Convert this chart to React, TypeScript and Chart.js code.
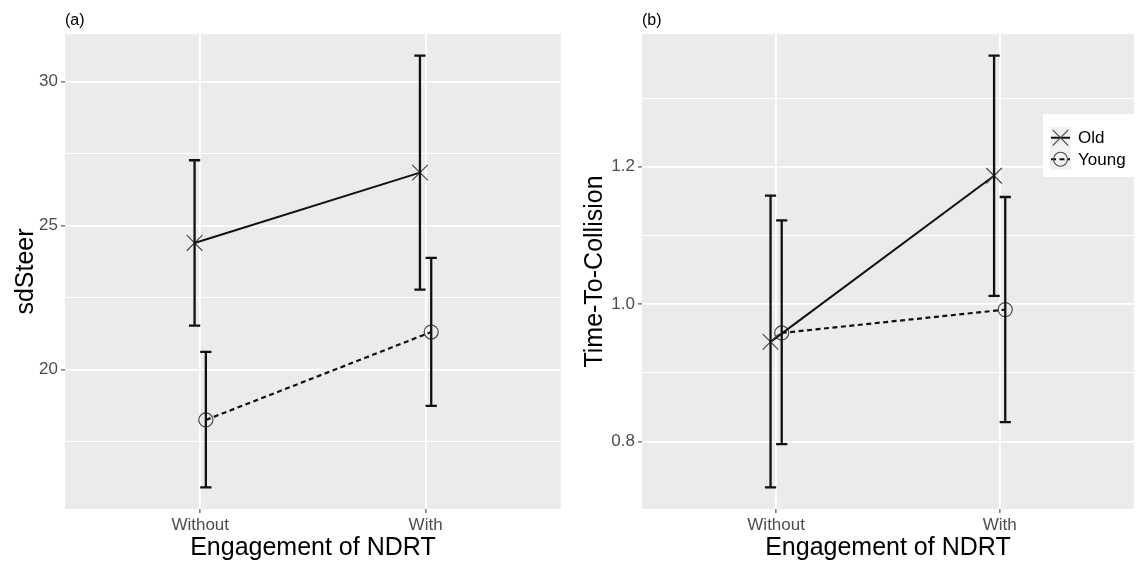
import React, { useEffect, useRef } from 'react';
import { Chart, registerables } from 'chart.js';

Chart.register(...registerables);

// ---------- data ----------
const categories = ['Without', 'With'];
const seriesNames = ['Old', 'Young'];

// Panel (a): sdSteer
const sdOldMean = [24.4, 26.84];
const sdOldLow = [21.53, 22.78];
const sdOldHigh = [27.27, 30.9];
const sdYoungMean = [18.26, 21.31];
const sdYoungLow = [15.92, 18.75];
const sdYoungHigh = [20.62, 23.88];
const sdTickValues = [20, 25, 30];
const sdTickLabels = ['20', '25', '30'];
const sdMinorTicks = [17.5, 22.5, 27.5];

// Panel (b): Time-To-Collision
const ttcOldMean = [0.945, 1.187];
const ttcOldLow = [0.733, 1.012];
const ttcOldHigh = [1.158, 1.362];
const ttcYoungMean = [0.958, 0.992];
const ttcYoungLow = [0.796, 0.828];
const ttcYoungHigh = [1.122, 1.156];
const ttcTickValues = [0.8, 1.0, 1.2];
const ttcTickLabels = ['0.8', '1.0', '1.2'];
const ttcMinorTicks = [0.9, 1.1, 1.3];

// ---------- styling constants ----------
const FONT = "'Liberation Sans', Arial, Helvetica, sans-serif";
const DODGE = [-0.025, 0.025];
const CAP = 0.025;
const MARKERS = ['crossRot', 'circle'];
const DASHES: number[][] = [[], [5, 3.5]];

Chart.defaults.font.family = FONT;

function near(a: number, b: number) {
  return Math.abs(a - b) < 1e-9;
}

function drawMarker(ctx: CanvasRenderingContext2D, style: string, x: number, y: number) {
  ctx.save();
  ctx.strokeStyle = '#4a4a4a';
  ctx.lineWidth = 1.2;
  ctx.beginPath();
  if (style === 'crossRot') {
    const d = 7.8;
    ctx.moveTo(x - d, y - d);
    ctx.lineTo(x + d, y + d);
    ctx.moveTo(x - d, y + d);
    ctx.lineTo(x + d, y - d);
  } else {
    ctx.arc(x, y, 7, 0, Math.PI * 2);
  }
  ctx.stroke();
  ctx.restore();
}

const panelBg = {
  id: 'panelBg',
  beforeDraw(chart: any) {
    const { ctx, chartArea: a } = chart;
    ctx.save();
    ctx.fillStyle = '#ebebeb';
    ctx.fillRect(a.left, a.top, a.right - a.left, a.bottom - a.top);
    ctx.restore();
  },
};

const panelTag = {
  id: 'panelTag',
  afterDraw(chart: any, _args: any, opts: any) {
    const { ctx, chartArea: a } = chart;
    ctx.save();
    ctx.fillStyle = '#000';
    ctx.font = `16px ${FONT}`;
    ctx.textAlign = 'left';
    ctx.textBaseline = 'middle';
    ctx.fillText(opts.text, a.left, opts.y);
    ctx.restore();
  },
};

const errorBars = {
  id: 'errorBars',
  afterDatasetsDraw(chart: any, _args: any, opts: any) {
    const { ctx } = chart;
    const xs = chart.scales.x;
    const ys = chart.scales.y;
    ctx.save();
    ctx.strokeStyle = '#111';
    ctx.lineWidth = 2.3;
    ctx.lineCap = 'butt';
    opts.bars.forEach((bar: any) => {
      bar.low.forEach((lo: number, i: number) => {
        const hi = bar.high[i];
        const xc = xs.getPixelForValue(i + bar.offset);
        const xl = xs.getPixelForValue(i + bar.offset - CAP);
        const xr = xs.getPixelForValue(i + bar.offset + CAP);
        const yl = ys.getPixelForValue(lo);
        const yh = ys.getPixelForValue(hi);
        ctx.beginPath();
        ctx.moveTo(xc, yl);
        ctx.lineTo(xc, yh);
        ctx.moveTo(xl, yl);
        ctx.lineTo(xr, yl);
        ctx.moveTo(xl, yh);
        ctx.lineTo(xr, yh);
        ctx.stroke();
      });
    });
    ctx.restore();
  },
};

const ggLegend = {
  id: 'ggLegend',
  afterDraw(chart: any, _args: any, opts: any) {
    if (!opts.display) return;
    const { ctx } = chart;
    const b = opts.box;
    ctx.save();
    ctx.fillStyle = '#ffffff';
    ctx.fillRect(b.x, b.y, b.w, b.h);
    const keyX = b.x + 7;
    const keyW = 21;
    const keyH = 21.5;
    const keyTop = b.y + 13;
    opts.names.forEach((name: string, i: number) => {
      const ky = keyTop + i * keyH;
      ctx.fillStyle = '#f2f2f2';
      ctx.fillRect(keyX, ky, keyW, keyH);
      const cy = ky + keyH / 2;
      const cx = keyX + keyW / 2;
      ctx.save();
      ctx.strokeStyle = '#111';
      ctx.lineWidth = 2;
      ctx.setLineDash(DASHES[i]);
      ctx.beginPath();
      ctx.moveTo(keyX + 1, cy);
      ctx.lineTo(keyX + keyW - 1, cy);
      ctx.stroke();
      ctx.restore();
      drawMarker(ctx, MARKERS[i], cx, cy);
      ctx.fillStyle = '#000';
      ctx.font = `17px ${FONT}`;
      ctx.textAlign = 'left';
      ctx.textBaseline = 'middle';
      ctx.fillText(name, keyX + keyW + 7, cy + 1);
    });
    ctx.restore();
  },
};

interface PanelSpec {
  tag: string;
  yTitle: string;
  yTitlePad: number;
  yAxisWidth: number;
  padRight: number;
  means: number[][];
  lows: number[][];
  highs: number[][];
  tickValues: number[];
  tickLabels: string[];
  minorTicks: number[];
  legend: boolean;
}

function makeConfig(s: PanelSpec): any {
  const all = [...s.lows.flat(), ...s.highs.flat()];
  const lo = Math.min(...all);
  const hi = Math.max(...all);
  const pad = (hi - lo) * 0.05;
  const allTicks = [...s.tickValues, ...s.minorTicks].sort((a, b) => a - b);
  const isMajor = (v: number) => s.tickValues.some((t) => near(t, v));

  const datasets = seriesNames.map((name, k) => ({
    label: name,
    data: s.means[k].map((m, i) => ({ x: i + DODGE[k], y: m })),
    borderColor: '#111',
    borderWidth: k === 0 ? 2 : 2.2,
    borderDash: DASHES[k],
    pointStyle: MARKERS[k],
    pointRadius: k === 0 ? 11 : 7,
    pointBorderWidth: 1.2,
    pointBorderColor: '#4a4a4a',
    pointBackgroundColor: 'rgba(0,0,0,0)',
    fill: false,
    tension: 0,
  }));

  return {
    type: 'line',
    data: { datasets },
    plugins: [panelBg, errorBars, panelTag, ggLegend],
    options: {
      responsive: false,
      animation: false,
      events: [],
      layout: { padding: { top: 34, right: s.padRight, left: 0, bottom: 0 } },
      plugins: {
        legend: { display: false },
        tooltip: { enabled: false },
        title: { display: false },
        panelTag: { text: s.tag, y: 21 },
        errorBars: {
          bars: seriesNames.map((_, k) => ({ low: s.lows[k], high: s.highs[k], offset: DODGE[k] })),
        },
        ggLegend: {
          display: s.legend,
          names: seriesNames,
          box: { x: 470, y: 114, w: 93, h: 63 },
        },
      },
      scales: {
        x: {
          type: 'linear',
          min: -0.6,
          max: 1.6,
          afterBuildTicks: (scale: any) => {
            scale.ticks = categories.map((_, i) => ({ value: i }));
          },
          afterFit: (scale: any) => {
            scale.height = 54;
          },
          ticks: {
            autoSkip: false,
            maxRotation: 0,
            padding: 2,
            color: '#4d4d4d',
            font: { size: 17, family: FONT },
            callback: (v: number) => categories[Math.round(v)] ?? '',
          },
          grid: {
            color: '#ffffff',
            lineWidth: 1.8,
            drawTicks: true,
            tickLength: 4,
            tickColor: '#333333',
            tickWidth: 1,
          },
          border: { display: false },
          title: {
            display: true,
            text: 'Engagement of NDRT',
            color: '#000',
            font: { size: 25, family: FONT },
            padding: { top: 0, bottom: 0 },
          },
        },
        y: {
          type: 'linear',
          min: lo - pad,
          max: hi + pad,
          afterBuildTicks: (scale: any) => {
            scale.ticks = allTicks.map((v) => ({ value: v }));
          },
          afterFit: (scale: any) => {
            scale.width = s.yAxisWidth;
          },
          ticks: {
            autoSkip: false,
            padding: 3,
            color: '#4d4d4d',
            font: { size: 17, family: FONT },
            callback: (v: number) => {
              const idx = s.tickValues.findIndex((t) => near(t, v));
              return idx >= 0 ? s.tickLabels[idx] : '';
            },
          },
          grid: {
            color: '#ffffff',
            lineWidth: (ctx: any) => (ctx.tick && isMajor(ctx.tick.value) ? 1.8 : 1.0),
            drawTicks: true,
            tickLength: 4,
            tickColor: (ctx: any) => (ctx.tick && isMajor(ctx.tick.value) ? '#333333' : 'rgba(0,0,0,0)'),
            tickWidth: 1,
          },
          border: { display: false },
          title: {
            display: true,
            text: s.yTitle,
            color: '#000',
            font: { size: 25, family: FONT },
            padding: { top: s.yTitlePad, bottom: 0 },
          },
        },
      },
    },
  };
}

function Panel({ spec, left, width }: { spec: PanelSpec; left: number; width: number }) {
  const ref = useRef<HTMLCanvasElement | null>(null);
  useEffect(() => {
    if (!ref.current) return;
    const chart = new Chart(ref.current, makeConfig(spec));
    return () => chart.destroy();
  }, []);
  return (
    <canvas
      ref={ref}
      width={width}
      height={563}
      style={{ position: 'absolute', left, top: 0, width, height: 563, display: 'block' }}
    />
  );
}

const specA: PanelSpec = {
  tag: '(a)',
  yTitle: 'sdSteer',
  yTitlePad: 11,
  yAxisWidth: 65,
  padRight: 6,
  means: [sdOldMean, sdYoungMean],
  lows: [sdOldLow, sdYoungLow],
  highs: [sdOldHigh, sdYoungHigh],
  tickValues: sdTickValues,
  tickLabels: sdTickLabels,
  minorTicks: sdMinorTicks,
  legend: false,
};

const specB: PanelSpec = {
  tag: '(b)',
  yTitle: 'Time-To-Collision',
  yTitlePad: 7,
  yAxisWidth: 69,
  padRight: 2,
  means: [ttcOldMean, ttcYoungMean],
  lows: [ttcOldLow, ttcYoungLow],
  highs: [ttcOldHigh, ttcYoungHigh],
  tickValues: ttcTickValues,
  tickLabels: ttcTickLabels,
  minorTicks: ttcMinorTicks,
  legend: true,
};

export default function App() {
  return (
    <div style={{ position: 'absolute', left: 0, top: 0, width: 1146, height: 563, background: '#fff' }}>
      <Panel spec={specA} left={0} width={573} />
      <Panel spec={specB} left={573} width={573} />
    </div>
  );
}
